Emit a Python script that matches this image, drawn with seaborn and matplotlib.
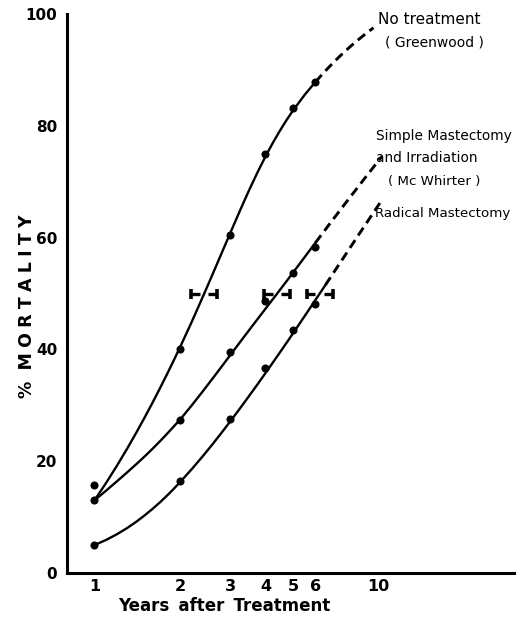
import matplotlib
matplotlib.use("Agg")
import matplotlib.pyplot as plt
import pandas as pd
import seaborn as sns

# Observed mortality (%) by years after treatment
years = [1, 2, 3, 4, 5, 6]
no_treatment_obs = [15.7, 40.0, 60.5, 75.0, 83.2, 87.8]
simple_obs = [13.0, 27.4, 39.6, 48.6, 53.6, 58.4]
radical_obs = [5.0, 16.5, 27.5, 36.7, 43.5, 48.1]

# Smoothed mortality curves: solid over the observed period, dashed projection beyond
fit_x = [1, 1.1, 1.2, 1.3, 1.4, 1.5, 1.6, 1.7, 1.8, 1.9, 2, 2.2, 2.4, 2.6, 2.8,
         3, 3.25, 3.5, 3.75, 4, 4.25, 4.5, 4.75, 5, 5.5, 6]

no_treatment_fit = [13.0, 16.16, 19.21, 22.16, 25.01, 27.78, 30.45, 33.04, 35.56, 38.00,
                    40.37, 44.93, 49.27, 53.33, 57.16, 60.70, 64.79, 68.45, 71.67, 74.51,
                    76.98, 79.15, 81.06, 82.73, 85.56, 87.86]
no_treatment_proj_x = [6, 6.5, 7, 7.5, 8, 8.5, 9, 9.4, 9.6]
no_treatment_proj = [87.86, 89.82, 91.52, 92.99, 94.28, 95.42, 96.44, 97.18, 97.53]

simple_fit = [13.0, 14.76, 16.41, 17.96, 19.42, 20.83, 22.21, 23.56, 24.89, 26.19,
              27.42, 29.99, 32.43, 34.73, 36.89, 38.92, 41.26, 43.42, 45.41, 47.27,
              49.01, 50.66, 52.23, 53.73, 56.53, 59.09]
simple_proj_x = [6, 6.5, 7, 7.5, 8, 9, 10, 10.3]
simple_proj = [59.09, 61.43, 63.59, 65.58, 67.43, 70.78, 73.75, 74.58]

radical_fit_x = fit_x + [6.5]
radical_fit = [5.0, 5.93, 6.94, 8.01, 9.13, 10.29, 11.46, 12.64, 13.84, 15.04,
               16.24, 18.58, 20.83, 22.99, 25.07, 27.06, 29.42, 31.65, 33.75, 35.76,
               37.67, 39.48, 41.21, 42.87, 45.98, 48.86, 51.50]
radical_proj_x = [6.5, 7, 7.5, 8, 8.5, 9, 10, 10.3]
radical_proj = [51.50, 53.97, 56.27, 58.43, 60.45, 62.34, 65.81, 66.78]

# Range of years at which each curve reaches 50 % mortality
ci_low = [2.19, 3.95, 5.58]
ci_mid = [2.43, 4.40, 6.21]
ci_high = [2.71, 4.90, 6.92]
ci_level = 50

x_ticks = [1, 2, 3, 4, 5, 6, 10]
y_ticks = [0, 10, 20, 30, 40, 50, 60, 70, 80, 90, 100]
y_tick_labels = ["0", "", "20", "", "40", "", "60", "", "80", "", "100"]

sns.set_style("white")
plt.rcParams["font.family"] = ["DejaVu Sans"]
plt.rcParams["text.color"] = "black"

fig = plt.figure(figsize=(5.16, 6.17), dpi=100)
ax = fig.add_axes([0.1298, 0.0713, 0.8702, 0.906])

curves = [
    (fit_x, no_treatment_fit, no_treatment_proj_x, no_treatment_proj),
    (fit_x, simple_fit, simple_proj_x, simple_proj),
    (radical_fit_x, radical_fit, radical_proj_x, radical_proj),
]
for fx, fy, px, py in curves:
    sns.lineplot(x=fx, y=fy, ax=ax, color="black", lw=1.7, estimator=None, sort=False)
    sns.lineplot(x=px, y=py, ax=ax, color="black", lw=2.1, estimator=None, sort=False,
                 linestyle=(0, (3.2, 1.9)))

obs = pd.DataFrame({
    "years": years * 3,
    "mortality": no_treatment_obs + simple_obs + radical_obs,
})
sns.scatterplot(data=obs, x="years", y="mortality", ax=ax, color="black",
                s=34, edgecolor="black", linewidth=0, zorder=5)

# Horizontal interval bars, broken where the curve passes through
gap = 1.035
for lo, mid, hi in zip(ci_low, ci_mid, ci_high):
    ax.plot([lo, mid / gap], [ci_level, ci_level], color="black", lw=2.4,
            solid_capstyle="butt")
    ax.plot([mid * gap, hi], [ci_level, ci_level], color="black", lw=2.4,
            solid_capstyle="butt")
    ax.plot([lo, hi], [ci_level, ci_level], ls="none", marker="|",
            markersize=7, markeredgewidth=2.6, color="black")

ax.set_xscale("log")
ax.set_xlim(0.80, 30.5)
ax.set_ylim(0, 100)
ax.set_xticks(x_ticks)
ax.set_xticklabels([str(t) for t in x_ticks])
ax.xaxis.set_minor_locator(matplotlib.ticker.NullLocator())
ax.set_yticks(y_ticks)
ax.set_yticklabels(y_tick_labels)
ax.set_xlabel("")
ax.set_ylabel("")

for side in ("top", "right"):
    ax.spines[side].set_visible(False)
for side in ("left", "bottom"):
    ax.spines[side].set_linewidth(2.2)
    ax.spines[side].set_color("black")

ax.tick_params(axis="y", direction="in", length=6.5, width=2, pad=7,
               labelsize=11, colors="black")
ax.tick_params(axis="x", direction="in", length=6, width=2, pad=4,
               labelsize=11.5, colors="black")
for lab in ax.get_yticklabels():
    lab.set_fontweight("bold")
for lab in ax.get_xticklabels():
    lab.set_fontweight("semibold")

W, H = 516, 617

def ftext(x, y, s, **kw):
    fig.text(x / W, 1 - y / H, s, color="black", **kw)

sp = "\u2009\u200a"
ftext(27, 306, "%" + sp + " " + sp.join("MORTALITY"),
      rotation=90, ha="center", va="center", fontsize=12.5, fontweight="bold")
ftext(224, 606, "Years\u2009 after\u2009 Treatment", ha="center", va="center",
      fontsize=12, fontweight="bold")

ftext(378, 20, "No treatment", ha="left", va="center", fontsize=11)
ftext(385, 42, "( Greenwood )", ha="left", va="center", fontsize=10)
ftext(376, 136, "Simple Mastectomy", ha="left", va="center", fontsize=9.9)
ftext(376, 158, "and Irradiation", ha="left", va="center", fontsize=9.9)
ftext(388, 181, "( Mc Whirter )", ha="left", va="center", fontsize=9.6)
ftext(375, 214, "Radical Mastectomy", ha="left", va="center", fontsize=9.6)

fig.savefig("out.png", dpi=100)
